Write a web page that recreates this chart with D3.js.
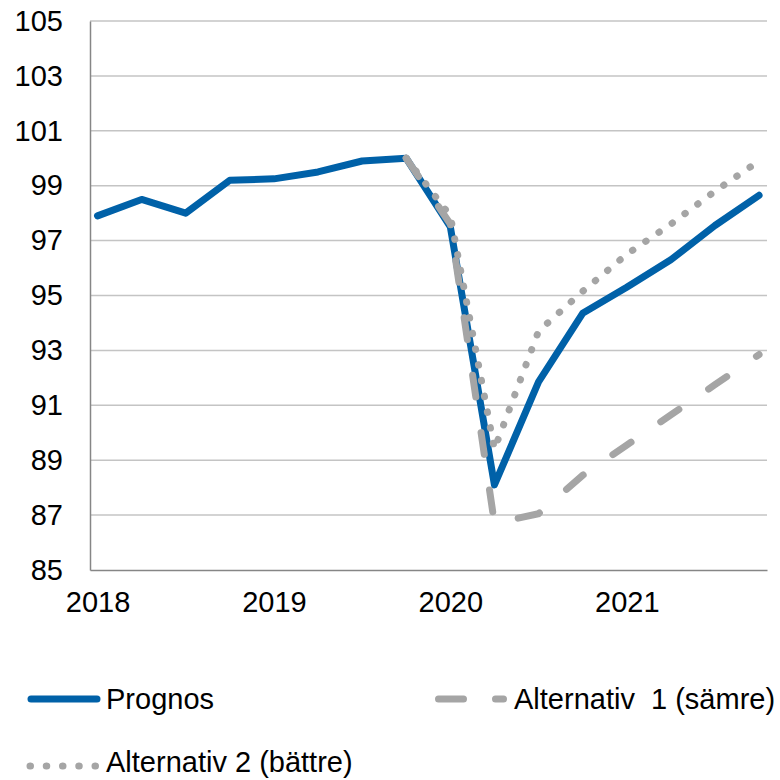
<!DOCTYPE html>
<html>
<head>
<meta charset="utf-8">
<script src="https://cdn.jsdelivr.net/npm/d3@7"></script>
<style>
  html, body { margin: 0; padding: 0; background: #fff; }
  svg { display: block; font-family: "Liberation Sans", Arial, sans-serif; }
</style>
</head>
<body>
<svg id="chart" width="780" height="780"></svg>
<script>
// ---- data ----
const quarters = ["2018Q1","2018Q2","2018Q3","2018Q4","2019Q1","2019Q2","2019Q3","2019Q4",
                  "2020Q1","2020Q2","2020Q3","2020Q4","2021Q1","2021Q2","2021Q3","2021Q4"];
const yearLabels = ["2018", "2019", "2020", "2021"];
const yearLabelIndex = [0, 4, 8, 12];
const yTicks = [85, 87, 89, 91, 93, 95, 97, 99, 101, 103, 105];
const prognos = [97.9, 98.5, 98.0, 99.2, 99.25, 99.5, 99.9, 100.0, 97.5, 88.1, 91.85, 94.35, 95.3, 96.3, 97.55, 98.65];
const alt1 = [null, null, null, null, null, null, null, 100.0, 97.6, 86.7, 87.05, 88.45, 89.55, 90.65, 91.75, 92.85];
const alt2 = [null, null, null, null, null, null, null, 100.0, 97.9, 89.4, 93.7, 95.15, 96.5, 97.6, 98.8, 99.9];
const seriesNames = ["Prognos", "Alternativ  1 (sämre)", "Alternativ 2 (bättre)"];

// ---- layout ----
const svg = d3.select("#chart");
const plot = { left: 90, right: 767, top: 21, bottom: 570 };
const blue = "#0061A8", gray = "#A5A5A5";
const fontSize = 29;

const x = d3.scaleLinear().domain([-0.17, 15.18]).range([plot.left, plot.right]);
const y = d3.scaleLinear().domain([85, 105]).range([plot.bottom, plot.top]);

// gridlines
svg.append("g").selectAll("line").data(yTicks.filter(v => v !== 85)).join("line")
  .attr("x1", plot.left).attr("x2", plot.right)
  .attr("y1", d => y(d)).attr("y2", d => y(d))
  .attr("stroke", "#C4C4C4").attr("stroke-width", 1.5);

// y axis
const yAxis = d3.axisLeft(y).tickValues(yTicks).tickSize(0).tickPadding(27);
const gy = svg.append("g").attr("transform", `translate(${plot.left},0)`).call(yAxis);
gy.select(".domain").attr("stroke", "#868686").attr("stroke-width", 1.5);
gy.selectAll("text").attr("font-size", fontSize).attr("fill", "#000")
  .attr("font-family", "Liberation Sans, Arial, sans-serif");

// x axis
const xAxis = d3.axisBottom(x).tickValues(yearLabelIndex)
  .tickFormat((d, i) => yearLabels[i]).tickSize(0).tickPadding(21);
const gx = svg.append("g").attr("transform", `translate(0,${plot.bottom})`).call(xAxis);
gx.select(".domain").attr("stroke", "#868686").attr("stroke-width", 1.5);
gx.selectAll("text").attr("font-size", fontSize).attr("fill", "#000")
  .attr("font-family", "Liberation Sans, Arial, sans-serif");

// lines
const line = d3.line().defined(d => d != null).x((d, i) => x(i)).y(d => y(d));
svg.append("path").datum(prognos).attr("d", line)
  .attr("fill", "none").attr("stroke", blue).attr("stroke-width", 7)
  .attr("stroke-linejoin", "round").attr("stroke-linecap", "round");
svg.append("path").datum(alt1).attr("d", line)
  .attr("fill", "none").attr("stroke", gray).attr("stroke-width", 7)
  .attr("stroke-dasharray", "22,36").attr("stroke-linecap", "round");
svg.append("path").datum(alt2).attr("d", line)
  .attr("fill", "none").attr("stroke", gray).attr("stroke-width", 7)
  .attr("stroke-dasharray", "0.5,15.5").attr("stroke-linecap", "round");

// legend
const leg = svg.append("g");
leg.append("line").attr("x1", 31).attr("x2", 97).attr("y1", 699).attr("y2", 699)
  .attr("stroke", blue).attr("stroke-width", 7).attr("stroke-linecap", "round");
leg.append("text").attr("x", 106).attr("y", 709).attr("font-size", fontSize).text(seriesNames[0]);

leg.append("line").attr("x1", 438.5).attr("x2", 503.5).attr("y1", 699).attr("y2", 699)
  .attr("stroke", gray).attr("stroke-width", 7).attr("stroke-linecap", "round")
  .attr("stroke-dasharray", "25,32");
leg.append("text").attr("x", 514).attr("y", 709).attr("font-size", fontSize)
  .style("white-space", "pre").text(seriesNames[1]);

leg.append("line").attr("x1", 30).attr("x2", 96).attr("y1", 766).attr("y2", 766)
  .attr("stroke", gray).attr("stroke-width", 7).attr("stroke-linecap", "round")
  .attr("stroke-dasharray", "0.5,15.75");
leg.append("text").attr("x", 106).attr("y", 772).attr("font-size", fontSize).text(seriesNames[2]);
</script>
</body>
</html>
